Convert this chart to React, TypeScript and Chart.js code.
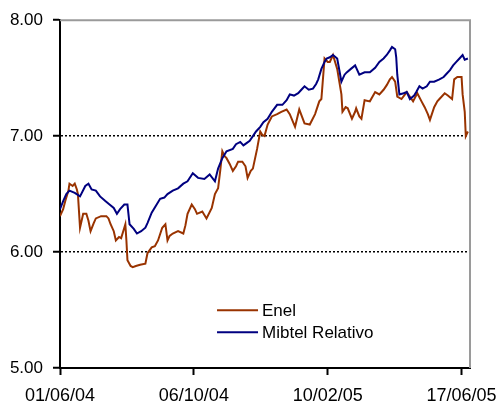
import React, { useEffect, useRef } from "react";
import { Chart, registerables } from "chart.js";

Chart.register(...registerables);

const seriesNames = ["Enel", "Mibtel Relativo"];
const seriesColors = ["#993300", "#000080"];

const yTickValues = [5, 6, 7, 8];
const tickDays = [0, 127, 254, 381];
const tickLabels = ["01/06/04", "06/10/04", "10/02/05", "17/06/05"];
const dayMax = 389;

const enelDays = [
  0, 3, 5, 8, 9, 12, 14, 16, 17, 19, 22, 25, 27, 29, 32, 34, 39, 44, 46, 48,
  51, 53, 56, 58, 60, 62, 63, 64, 67, 69, 72, 76, 81, 83, 87, 90, 93, 97, 100, 102,
  104, 107, 112, 117, 119, 121, 125, 128, 130, 135, 139, 144, 147, 150, 152, 154, 156, 158, 161, 164,
  167, 169, 173, 176, 178, 181, 183, 187, 190, 192, 194, 197, 201, 206, 210, 215, 218, 223, 227, 232,
  237, 242, 246, 248, 251, 254, 256, 259, 263, 265, 267, 268, 271, 273, 277, 280, 281, 284, 286, 289,
  294, 299, 303, 307, 310, 313, 315, 318, 320, 324, 329, 332, 335, 339, 343, 346, 349, 351, 355, 358,
  360, 365, 368, 372, 374, 377, 381, 382, 384, 385, 387,
];
const enelValues = [
  6.31, 6.37, 6.44, 6.53, 6.59, 6.57, 6.59, 6.54, 6.5, 6.21, 6.33, 6.33, 6.27, 6.18, 6.25, 6.29, 6.31, 6.31, 6.29, 6.24,
  6.18, 6.1, 6.13, 6.12, 6.18, 6.24, 6.1, 5.93, 5.88, 5.87, 5.88, 5.89, 5.9, 5.99, 6.04, 6.05, 6.1, 6.21, 6.24, 6.1,
  6.14, 6.16, 6.18, 6.16, 6.23, 6.33, 6.41, 6.37, 6.33, 6.35, 6.29, 6.38, 6.5, 6.55, 6.7, 6.87, 6.83, 6.81, 6.76, 6.7,
  6.74, 6.78, 6.78, 6.74, 6.64, 6.7, 6.72, 6.89, 7.04, 7.01, 7.0, 7.1, 7.17, 7.19, 7.21, 7.23, 7.19, 7.08, 7.23, 7.11,
  7.1, 7.19, 7.3, 7.32, 7.67, 7.64, 7.64, 7.7, 7.58, 7.47, 7.36, 7.21, 7.25, 7.24, 7.15, 7.21, 7.24, 7.17, 7.15, 7.31,
  7.3, 7.38, 7.36, 7.4, 7.44, 7.49, 7.51, 7.47, 7.34, 7.32, 7.38, 7.34, 7.3, 7.37, 7.3, 7.25, 7.19, 7.14, 7.25, 7.3,
  7.32, 7.37, 7.35, 7.32, 7.49, 7.51, 7.51, 7.36, 7.21, 7.0, 7.04,
];

const mibtelDays = [
  0, 3, 6, 9, 14, 19, 24, 27, 30, 34, 38, 43, 47, 51, 54, 57, 61, 64, 66, 70,
  73, 77, 81, 83, 87, 91, 95, 99, 102, 107, 112, 117, 121, 126, 131, 137, 142, 147, 150, 154,
  158, 164, 167, 171, 174, 177, 180, 183, 186, 190, 193, 197, 201, 206, 211, 215, 218, 222, 226, 229,
  232, 236, 240, 243, 245, 248, 251, 253, 256, 259, 263, 265, 267, 270, 272, 276, 280, 284, 289, 294,
  299, 303, 307, 310, 313, 315, 318, 319, 320, 322, 326, 329, 332, 336, 338, 341, 344, 348, 351, 355,
  360, 364, 367, 370, 373, 376, 379, 382, 384, 387,
];
const mibtelValues = [
  6.37, 6.44, 6.5, 6.53, 6.51, 6.48, 6.57, 6.59, 6.54, 6.53, 6.48, 6.44, 6.41, 6.38, 6.33, 6.37, 6.41, 6.41, 6.24, 6.2,
  6.16, 6.18, 6.21, 6.25, 6.34, 6.4, 6.46, 6.47, 6.5, 6.53, 6.55, 6.59, 6.61, 6.68, 6.64, 6.63, 6.67, 6.61, 6.72, 6.81,
  6.87, 6.89, 6.93, 6.95, 6.92, 6.94, 6.96, 7.0, 7.04, 7.08, 7.12, 7.15, 7.21, 7.27, 7.27, 7.31, 7.36, 7.35, 7.37, 7.4,
  7.43, 7.4, 7.41, 7.45, 7.49, 7.58, 7.64, 7.67, 7.68, 7.7, 7.67, 7.57, 7.47, 7.53, 7.55, 7.58, 7.61, 7.53, 7.55, 7.55,
  7.59, 7.64, 7.67, 7.7, 7.74, 7.77, 7.75, 7.68, 7.53, 7.36, 7.37, 7.38, 7.32, 7.35, 7.38, 7.43, 7.41, 7.43, 7.47, 7.47,
  7.49, 7.51, 7.54, 7.57, 7.61, 7.64, 7.67, 7.7, 7.66, 7.67,
];

const FONT = "'Liberation Sans', Arial, sans-serif";

const framePlugin = {
  id: "frameAndLegend",
  beforeDatasetsDraw(chart: any) {
    const { ctx, chartArea } = chart;
    const { left, right, top, bottom } = chartArea;
    ctx.save();
    ctx.strokeStyle = "#9a9a9a";
    ctx.lineWidth = 2;
    ctx.beginPath();
    ctx.moveTo(left, top);
    ctx.lineTo(right, top);
    ctx.lineTo(right, bottom);
    ctx.stroke();
    ctx.restore();
  },
  afterDraw(chart: any) {
    const { ctx, chartArea } = chart;
    const { left, top, right, bottom } = chartArea;
    const w = right - left;
    const h = bottom - top;
    const x0 = left + w * 0.383;
    const x1 = left + w * 0.483;
    const rows = [top + h * 0.834, top + h * 0.897];
    ctx.save();
    chart.data.datasets.forEach((ds: any, i: number) => {
      const y = rows[i];
      ctx.strokeStyle = ds.borderColor;
      ctx.lineWidth = 2;
      ctx.beginPath();
      ctx.moveTo(x0, y);
      ctx.lineTo(x1, y);
      ctx.stroke();
      ctx.fillStyle = "#000";
      ctx.font = `17px ${FONT}`;
      ctx.textBaseline = "middle";
      ctx.textAlign = "left";
      ctx.fillText(ds.label, x1 + 4, y + 1);
    });
    ctx.restore();
  },
};

export default function App() {
  const canvasRef = useRef<HTMLCanvasElement | null>(null);

  useEffect(() => {
    if (!canvasRef.current) return;
    const enelData = enelDays.map((d, i) => ({ x: d, y: enelValues[i] }));
    const mibtelData = mibtelDays.map((d, i) => ({ x: d, y: mibtelValues[i] }));
    const chart = new Chart(canvasRef.current, {
      type: "line",
      data: {
        datasets: [
          {
            label: seriesNames[0],
            data: enelData,
            borderColor: seriesColors[0],
            backgroundColor: seriesColors[0],
            borderWidth: 2,
            pointRadius: 0,
            tension: 0,
            order: 2,
          },
          {
            label: seriesNames[1],
            data: mibtelData,
            borderColor: seriesColors[1],
            backgroundColor: seriesColors[1],
            borderWidth: 2,
            pointRadius: 0,
            tension: 0,
            order: 1,
          },
        ],
      },
      options: {
        responsive: false,
        animation: false,
        layout: { padding: { left: 0, right: 29, top: 18, bottom: 0 } },
        plugins: {
          legend: { display: false },
          tooltip: { enabled: false },
        },
        scales: {
          x: {
            type: "linear",
            min: 0,
            max: dayMax,
            afterBuildTicks: (scale: any) => {
              scale.ticks = tickDays.map((v) => ({ value: v }));
            },
            afterFit: (scale: any) => {
              scale.height = 37;
              scale.paddingRight = 0;
              scale.paddingLeft = 0;
            },
            ticks: {
              autoSkip: false,
              maxRotation: 0,
              padding: 10,
              color: "#000",
              font: { family: FONT, size: 18 },
              callback: (v: any) => {
                const idx = tickDays.indexOf(Number(v));
                return idx >= 0 ? tickLabels[idx] : "";
              },
            },
            grid: {
              drawOnChartArea: false,
              drawTicks: true,
              tickLength: 7,
              tickColor: "#000",
              tickWidth: 2,
            },
            border: { display: true, color: "#000", width: 2 },
          },
          y: {
            min: 5,
            max: 8,
            afterBuildTicks: (scale: any) => {
              scale.ticks = yTickValues.map((v) => ({ value: v }));
            },
            afterFit: (scale: any) => {
              scale.width = 60;
            },
            ticks: {
              padding: 10,
              color: "#000",
              font: { family: FONT, size: 17 },
              callback: (v: any) => Number(v).toFixed(2),
            },
            grid: {
              drawTicks: true,
              tickLength: 7,
              tickColor: "#000",
              tickWidth: 2,
              lineWidth: 1.5,
              color: (ctx: any) => {
                const v = ctx.tick ? ctx.tick.value : null;
                return v === 6 || v === 7 ? "#000" : "rgba(0,0,0,0)";
              },
            },
            border: { display: true, color: "#000", width: 2, dash: [2, 2] },
          },
        },
      },
      plugins: [framePlugin],
    });
    return () => chart.destroy();
  }, []);

  return (
    <div style={{ position: "absolute", left: 0, top: 0, width: 499, height: 405, background: "#fff" }}>
      <canvas ref={canvasRef} width={499} height={405} style={{ display: "block" }} />
    </div>
  );
}
